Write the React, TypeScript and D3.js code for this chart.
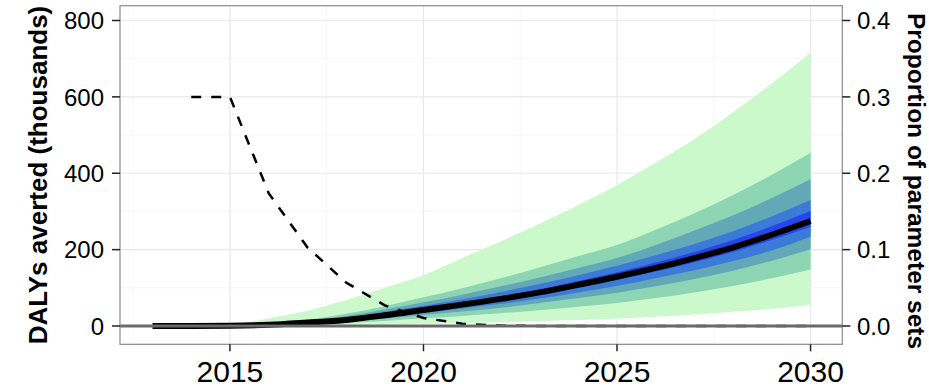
import React from "react";
import * as d3 from "d3";

const years = [2013, 2014, 2015, 2016, 2017, 2018, 2019, 2020, 2021, 2022, 2023, 2024, 2025, 2026, 2027, 2028, 2029, 2030];
const median = [0, 0, 0.5, 3, 9, 16, 28, 42, 56, 71, 88, 108, 129, 152, 178, 206, 239, 275];

const bandYears = [2015, 2016, 2017, 2018, 2019, 2020, 2021, 2022, 2023, 2024, 2025, 2026, 2027, 2028, 2029, 2030];
const lightTop = [0, 20, 40, 68, 100, 133, 178, 222, 268, 317, 369, 428, 490, 560, 635, 716];
const lightBot = [0, 0.5, 1.5, 2.5, 4, 6, 8, 10, 12.5, 15.5, 19, 24, 30, 37, 45, 55];
const g2Top = [0, 6, 16, 32, 52, 75, 99, 125, 153, 183, 212, 252, 295, 343, 396, 454];
const g2Bot = [0, 1.4, 3.8, 7.6, 13, 20, 26.5, 33.5, 41.5, 50.5, 60, 73, 88, 105, 125, 148];
const tealTop = [0, 5, 13, 26, 43, 62, 82, 104, 127, 152, 178, 212, 250, 290, 335, 384];
const tealBot = [0, 2, 5.4, 11, 19, 28.5, 38, 48, 60, 73, 87, 104, 123, 145, 171, 201];
const blueTop = [0, 4, 11, 22, 37, 53, 70, 89, 110, 133, 158, 185, 215, 248, 287, 330];
const blueBot = [0, 2.5, 6.6, 13, 23, 34.5, 46, 58, 72, 88, 105, 125, 146, 170, 198, 234];
const brightTop = [0, 3.3, 9.8, 17.5, 30.5, 46, 61, 77.5, 96, 118, 141, 166, 194, 225, 261, 301];
const brightBot = [0, 2.8, 8.4, 15, 26.3, 39.5, 52.6, 66.7, 82.7, 101.5, 121, 143, 167, 194, 225, 260];

const propYears = [2014, 2015, 2016, 2017, 2018, 2019, 2020, 2021, 2022, 2023, 2024, 2025, 2026, 2027, 2028, 2029, 2030];
const proportion = [0.3, 0.3, 0.174, 0.103, 0.057, 0.027, 0.0105, 0.003, 0.0005, 0, 0, 0, 0, 0, 0, 0, 0];

const xTicks = [2015, 2020, 2025, 2030];
const xMinor = [2012.5, 2017.5, 2022.5, 2027.5];
const yTicks = [0, 200, 400, 600, 800];
const yMinor = [100, 300, 500, 700];
const y2Ticks = [0, 0.1, 0.2, 0.3, 0.4];

const W = 929, H = 389;
const P = { left: 120, right: 842.3, top: 5.7, bottom: 344.3 };
const FONT = "'Liberation Sans', Arial, Helvetica, sans-serif";

export default function App() {
  const x = d3.scaleLinear().domain([2012.16, 2030.82]).range([P.left, P.right]);
  const y = d3.scaleLinear().domain([0, 800]).range([326, 20.5]);
  const y2 = d3.scaleLinear().domain([0, 0.4]).range([326, 20.5]);

  const band = (lo: number[], hi: number[]) =>
    d3.area<number>()
      .x((_, i) => x(bandYears[i]))
      .y0((_, i) => y(lo[i]))
      .y1((_, i) => y(hi[i]))
      .curve(d3.curveMonotoneX)(bandYears) || "";

  const medLine = d3.line<number>()
    .x((_, i) => x(years[i]))
    .y((d) => y(d))
    .curve(d3.curveMonotoneX)(median) || "";

  const propLine = d3.line<number>()
    .x((_, i) => x(propYears[i]))
    .y((d) => y2(d))(proportion) || "";

  const bands = [
    { lo: lightBot, hi: lightTop, c: "#ccf9cc" },
    { lo: g2Bot, hi: g2Top, c: "#8ed5b4" },
    { lo: tealBot, hi: tealTop, c: "#62a8b7" },
    { lo: blueBot, hi: blueTop, c: "#3c7ad8" },
    { lo: brightBot, hi: brightTop, c: "#2346ee" },
  ];

  return (
    <svg width={W} height={H} style={{ position: "absolute", left: 0, top: 0, background: "#fff" }} fontFamily={FONT}>
      <defs>
        <clipPath id="panel">
          <rect x={P.left} y={P.top} width={P.right - P.left} height={P.bottom - P.top} />
        </clipPath>
      </defs>
      <rect x={P.left} y={P.top} width={P.right - P.left} height={P.bottom - P.top} fill="#fff" />
      <g clipPath="url(#panel)">
        {yMinor.map((t) => (
          <line key={"ym" + t} x1={P.left} x2={P.right} y1={y(t)} y2={y(t)} stroke="#f7f7f7" strokeWidth={1} />
        ))}
        {xMinor.map((t) => (
          <line key={"xm" + t} x1={x(t)} x2={x(t)} y1={P.top} y2={P.bottom} stroke="#f7f7f7" strokeWidth={1} />
        ))}
        {yTicks.map((t) => (
          <line key={"yg" + t} x1={P.left} x2={P.right} y1={y(t)} y2={y(t)} stroke="#e8e8e8" strokeWidth={1.2} />
        ))}
        {xTicks.map((t) => (
          <line key={"xg" + t} x1={x(t)} x2={x(t)} y1={P.top} y2={P.bottom} stroke="#e8e8e8" strokeWidth={1.2} />
        ))}
        {bands.map((b, i) => (
          <path key={i} d={band(b.lo, b.hi)} fill={b.c} />
        ))}
        <path d={medLine} fill="none" stroke="#000" strokeWidth={6} />
        <path d={propLine} fill="none" stroke="#000" strokeWidth={2.5} strokeDasharray="10,10" />
        <line x1={P.left} x2={P.right} y1={y(0)} y2={y(0)} stroke="#6a6a6a" strokeWidth={3} />
      </g>
      <rect x={P.left} y={P.top} width={P.right - P.left} height={P.bottom - P.top} fill="none" stroke="#8a8a8a" strokeWidth={1.2} />

      {yTicks.map((t) => (
        <g key={"yt" + t}>
          <line x1={P.left - 8} x2={P.left} y1={y(t)} y2={y(t)} stroke="#222" strokeWidth={1.5} />
          <text x={104} y={y(t)} dy="0.36em" textAnchor="end" fontSize={24} fill="#000">{t}</text>
        </g>
      ))}
      {y2Ticks.map((t) => (
        <g key={"y2t" + t}>
          <line x1={P.right} x2={P.right + 8} y1={y2(t)} y2={y2(t)} stroke="#222" strokeWidth={1.5} />
          <text x={857} y={y2(t)} dy="0.36em" textAnchor="start" fontSize={24} fill="#000">{t.toFixed(1)}</text>
        </g>
      ))}
      {xTicks.map((t) => (
        <g key={"xt" + t}>
          <line x1={x(t)} x2={x(t)} y1={P.bottom} y2={P.bottom + 7} stroke="#222" strokeWidth={1.5} />
          <text x={x(t)} y={382} textAnchor="middle" fontSize={30} fill="#000">{t}</text>
        </g>
      ))}
      <text transform={`translate(47,${(P.top + P.bottom) / 2}) rotate(-90)`} textAnchor="middle" fontSize={26} fontWeight="bold" fill="#000">
        DALYs averted (thousands)
      </text>
      <text transform={`translate(908,181) rotate(90)`} textAnchor="middle" fontSize={24.5} fontWeight="bold" fill="#000">
        Proportion of parameter sets
      </text>
    </svg>
  );
}
